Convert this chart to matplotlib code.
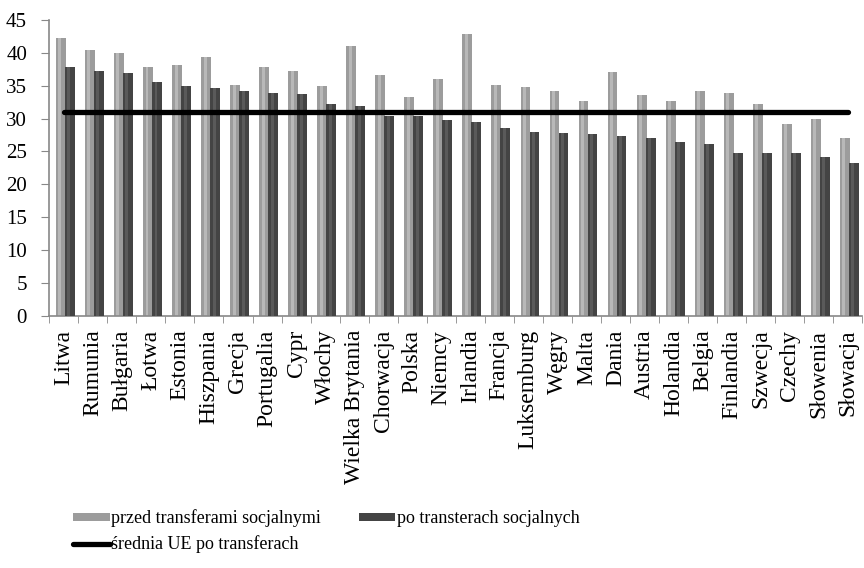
import numpy as np
import matplotlib.pyplot as plt

plt.rcParams['font.family'] = ['Liberation Serif', 'DejaVu Serif']

# Dane
kraje = ['Litwa', 'Rumunia', 'Bułgaria', 'Łotwa', 'Estonia', 'Hiszpania', 'Grecja',
         'Portugalia', 'Cypr', 'Włochy', 'Wielka Brytania', 'Chorwacja', 'Polska',
         'Niemcy', 'Irlandia', 'Francja', 'Luksemburg', 'Węgry', 'Malta', 'Dania',
         'Austria', 'Holandia', 'Belgia', 'Finlandia', 'Szwecja', 'Czechy',
         'Słowenia', 'Słowacja']
przed = [42.2, 40.4, 39.9, 37.9, 38.1, 39.3, 35.1, 37.8, 37.2, 34.9, 41.0, 36.6,
         33.3, 36.0, 42.8, 35.1, 34.8, 34.2, 32.6, 37.1, 33.6, 32.6, 34.2, 33.9,
         32.2, 29.1, 30.0, 27.1]
po = [37.9, 37.3, 36.9, 35.5, 34.9, 34.6, 34.2, 33.9, 33.7, 32.2, 31.9, 30.4,
      30.4, 29.8, 29.5, 28.5, 28.0, 27.8, 27.7, 27.4, 27.1, 26.5, 26.1, 24.7,
      24.7, 24.7, 24.2, 23.3]
srednia_ue = 31.0

x = np.arange(len(kraje))
w = 0.34

fig = plt.figure(figsize=(8.64, 5.68), dpi=100)
ax = fig.add_axes([0.057, 0.444, 0.941, 0.521])

# słupki z lekkim efektem "walca"
b1 = ax.bar(x - 0.1, przed, width=w, color='#9c9c9c', zorder=2)
ax.bar(x - 0.1 - w * 0.1, przed, width=w * 0.3, color='#b8b8b8', zorder=2)
b2 = ax.bar(x + 0.21, po, width=w, color='#444444', zorder=3)
ax.bar(x + 0.21 - w * 0.1, po, width=w * 0.3, color='#5a5a5a', zorder=3)

ln, = ax.plot(x, [srednia_ue] * len(x), color='black', lw=3.8,
              solid_capstyle='round', zorder=4)

ax.set_xlim(-0.5, len(kraje) - 0.5)
ax.set_ylim(0, 45)
ax.set_yticks(np.arange(0, 46, 5))
ax.set_xticks(x)
ax.set_xticklabels(kraje, rotation=90, fontsize=17)
ax.set_xticks(np.arange(-0.5, len(kraje), 1), minor=True)
ax.tick_params(axis='x', which='major', length=0, pad=10)
ax.tick_params(axis='x', which='minor', length=5, color='#888888')
ax.tick_params(axis='y', labelsize=15, length=6, color='#888888', pad=10)

for s in ['top', 'right']:
    ax.spines[s].set_visible(False)
for s in ['left', 'bottom']:
    ax.spines[s].set_color('#888888')
    ax.spines[s].set_linewidth(1.2)

fig.legend([b1, ln, b2],
           ['przed transferami socjalnymi', 'średnia UE po transferach',
            'po transterach socjalnych'],
           loc='upper left', bbox_to_anchor=(0.085, 0.103), ncol=2,
           frameon=False, fontsize=13, handlelength=2.0, handleheight=0.35,
           handletextpad=0.1, columnspacing=2.1, labelspacing=0.45,
           borderaxespad=0, borderpad=0)

plt.savefig('out.png', dpi=100)
